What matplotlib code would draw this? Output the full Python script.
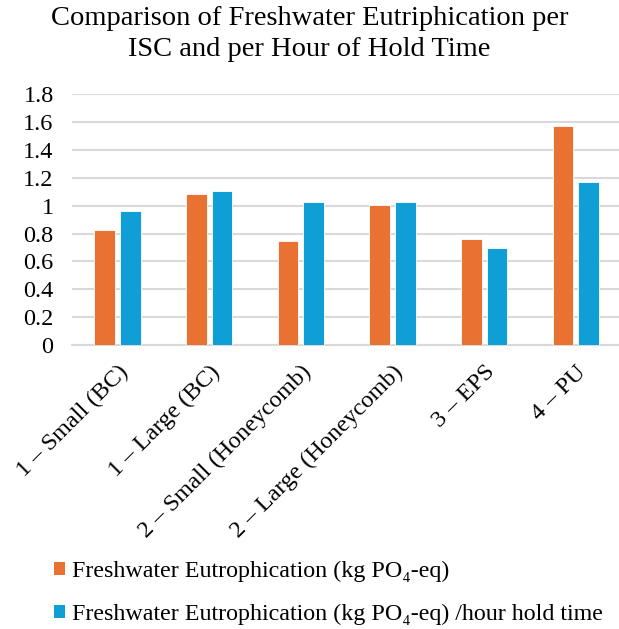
import matplotlib.pyplot as plt
import numpy as np
from matplotlib.patches import Patch

# values
categories = ["1 – Small (BC)", "1 – Large (BC)", "2 – Small (Honeycomb)",
              "2 – Large (Honeycomb)", "3 – EPS", "4 – PU"]
eutroph = [0.823, 1.081, 0.749, 1.005, 0.758, 1.572]
eutroph_per_hour = [0.962, 1.108, 1.024, 1.026, 0.696, 1.172]
yticks = [0, 0.2, 0.4, 0.6, 0.8, 1, 1.2, 1.4, 1.6, 1.8]
ytick_labels = ["0", "0.2", "0.4", "0.6", "0.8", "1", "1.2", "1.4", "1.6", "1.8"]

orange = "#E97132"
blue = "#0F9ED5"
fonts = ["Liberation Serif", "DejaVu Serif"]
plt.rcParams['font.family'] = fonts

fig = plt.figure(figsize=(6.19, 6.29), dpi=100)
ax = fig.add_axes([0.1158, 0.4515, 0.8885, 0.3986])

x = np.arange(len(categories))
w = 0.225
off = 0.141
ax.bar(x - off, eutroph, w, color=orange, edgecolor="white", linewidth=0.6, zorder=3)
ax.bar(x + off, eutroph_per_hour, w, color=blue, edgecolor="white", linewidth=0.6, zorder=3)

ax.set_xlim(-0.5, len(categories) - 0.5)
ax.set_ylim(0, 1.8)
ax.set_yticks(yticks)
ax.set_yticklabels(ytick_labels, fontsize=17.5)
ax.set_xticks(x)
ax.set_xticklabels(categories, fontsize=17.5, rotation=45, ha="right",
                   rotation_mode="anchor")
ax.tick_params(axis="both", length=0)
ax.tick_params(axis="y", pad=13)
ax.tick_params(axis="x", pad=12)
ax.yaxis.grid(True, color="#D9D9D9", linewidth=1.5, zorder=0)
for s in ["top", "right", "left"]:
    ax.spines[s].set_visible(False)
ax.spines["bottom"].set_color("#D9D9D9")
ax.spines["bottom"].set_linewidth(1.5)

fig.text(0.5, 0.99, "Comparison of Freshwater Eutriphication per\nISC and per Hour of Hold Time",
         ha="center", va="top", fontsize=20.5, linespacing=1.32)

handles = [Patch(facecolor=orange, edgecolor="none"),
           Patch(facecolor=blue, edgecolor="none")]
labels = ["Freshwater Eutrophication (kg PO₄-eq)",
          "Freshwater Eutrophication (kg PO₄-eq) /hour hold time"]
fig.legend(handles, labels, loc="upper left", bbox_to_anchor=(0.087, 0.108),
           frameon=False, fontsize=17.3, handlelength=0.46, handleheight=0.46,
           handletextpad=0.3, labelspacing=0.9, borderpad=0, borderaxespad=0)

fig.savefig("out.png", dpi=100)
